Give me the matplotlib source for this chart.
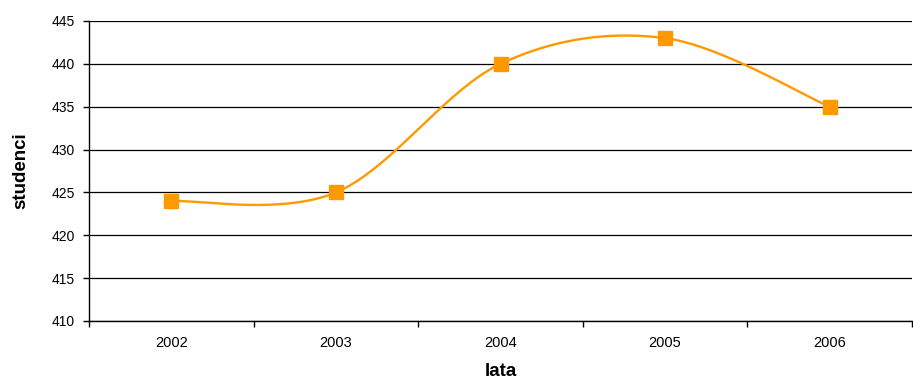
import numpy as np
import matplotlib.pyplot as plt

plt.rcParams['font.family'] = ['Liberation Sans', 'DejaVu Sans']

lata = ['2002', '2003', '2004', '2005', '2006']
studenci = [424, 425, 440, 443, 435]

y_ticks = [410, 415, 420, 425, 430, 435, 440, 445]


def smooth_curve(x, y, steps=40):
    """Bezier smoothing like in a spreadsheet line chart."""
    x = np.asarray(x, float)
    y = np.asarray(y, float)
    px = np.concatenate([[x[0]], x, [x[-1]]])
    py = np.concatenate([[y[0]], y, [y[-1]]])
    xs, ys = [], []
    t = np.linspace(0, 1, steps)
    for i in range(len(x) - 1):
        p0 = np.array([px[i + 1], py[i + 1]])
        p3 = np.array([px[i + 2], py[i + 2]])
        c1 = p0 + (np.array([px[i + 2], py[i + 2]]) - np.array([px[i], py[i]])) / 6
        c2 = p3 - (np.array([px[i + 3], py[i + 3]]) - np.array([px[i + 1], py[i + 1]])) / 6
        b = ((1 - t) ** 3)[:, None] * p0 + (3 * (1 - t) ** 2 * t)[:, None] * c1 \
            + (3 * (1 - t) * t ** 2)[:, None] * c2 + (t ** 3)[:, None] * p3
        xs.extend(b[:, 0])
        ys.extend(b[:, 1])
    return np.array(xs), np.array(ys)


fig = plt.figure(figsize=(9.13, 3.8), dpi=100)
ax = fig.add_axes([89 / 913, 1 - 321 / 380, 823 / 913, 300 / 380])

x = np.arange(len(lata))
sx, sy = smooth_curve(x, studenci)
ax.plot(sx, sy, color='#FF9900', lw=1.7, zorder=3)
ax.plot(x, studenci, ls='none', marker='s', ms=10.5, color='#FF9900', zorder=4)

ax.set_xlim(-0.5, len(lata) - 0.5)
ax.set_ylim(410, 445)
ax.set_yticks(y_ticks)
ax.set_xticks(np.arange(len(lata) + 1) - 0.5)
ax.set_xticklabels([])
ax.set_xticks(x, minor=True)
ax.set_xticklabels(lata, minor=True)
ax.tick_params(axis='x', which='minor', length=0, pad=11, labelsize=10.5)
ax.tick_params(axis='x', which='major', length=4, width=1, direction='out')
ax.tick_params(axis='y', length=4, width=1, direction='out', labelsize=10, pad=6)

ax.grid(axis='y', color='black', lw=0.9)
ax.set_axisbelow(True)
for side in ['top', 'right']:
    ax.spines[side].set_visible(False)
ax.spines['left'].set_linewidth(1)
ax.spines['bottom'].set_linewidth(1)

ax.set_xlabel('lata', fontsize=13.5, fontweight='bold', labelpad=9)
ax.set_ylabel('studenci', fontsize=13.5, fontweight='bold', labelpad=16)

fig.savefig('out.png', dpi=100)
